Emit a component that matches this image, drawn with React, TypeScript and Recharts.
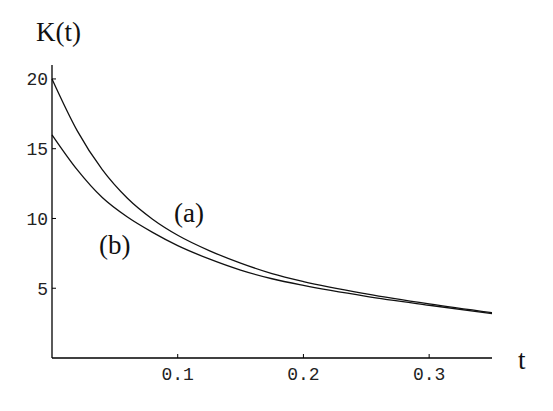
import React from "react";
import { LineChart, Line, XAxis, YAxis, ReferenceDot } from "recharts";

// values
const tValues = [0, 0.02, 0.04, 0.06, 0.08, 0.1, 0.125, 0.15, 0.175, 0.2, 0.25, 0.3, 0.35];
const curveA = [20, 16.3, 13.5, 11.45, 9.95, 8.8, 7.7, 6.8, 6.05, 5.48, 4.6, 3.88, 3.25];
const curveB = [16, 13.5, 11.5, 10.1, 9.0, 8.05, 7.1, 6.3, 5.68, 5.2, 4.42, 3.78, 3.18];
const xTicks = [0.1, 0.2, 0.3];
const yTicks = [5, 10, 15, 20];

const chartData = tValues.map((t, i) => ({ t, a: curveA[i], b: curveB[i] }));

const tickFont = { fontFamily: "'Liberation Mono', monospace", fontSize: 18, fill: "#222" };
const serif = { fontFamily: "'Liberation Serif', serif", fontSize: 27, fill: "#111" };

const TICK_GAP = 4;

const YTick = (props: any) => {
  const { x, y, payload } = props;
  const axisX = x + TICK_GAP;
  return (
    <g>
      <line x1={axisX} x2={axisX + 4} y1={y} y2={y} stroke="#000" strokeWidth={1} />
      <text x={x} y={y} dy="0.35em" textAnchor="end" {...tickFont}>
        {payload.value}
      </text>
    </g>
  );
};

const XTick = (props: any) => {
  const { x, y, payload } = props;
  const axisY = y - 8;
  return (
    <g>
      <line x1={x} x2={x} y1={axisY} y2={axisY - 4} stroke="#000" strokeWidth={1} />
      <text x={x} y={y} dy="0.75em" textAnchor="middle" {...tickFont}>
        {payload.value}
      </text>
    </g>
  );
};

const Tag = (text: string) => (props: any) => {
  const { viewBox } = props;
  return (
    <text x={viewBox.x} y={viewBox.y} dy="0.35em" textAnchor="middle" {...serif}>
      {text}
    </text>
  );
};

export default function App() {
  return (
    <div style={{ position: "absolute", left: 0, top: 0, background: "#fff" }}>
      <LineChart
        width={553}
        height={411}
        data={chartData}
        margin={{ top: 65, right: 61, left: 7, bottom: 23 }}
      >
        <XAxis
          dataKey="t"
          type="number"
          domain={[0, 0.35]}
          ticks={xTicks}
          tickSize={0}
          tickMargin={8}
          height={30}
          axisLine={{ stroke: "#000", strokeWidth: 1.3 }}
          tick={<XTick />}
        />
        <YAxis
          type="number"
          domain={[0, 21]}
          ticks={yTicks}
          tickSize={0}
          tickMargin={TICK_GAP}
          width={45}
          axisLine={{ stroke: "#000", strokeWidth: 1.3 }}
          tick={<YTick />}
        />
        <Line type="monotone" dataKey="a" stroke="#111" strokeWidth={1.3} dot={false} isAnimationActive={false} />
        <Line type="monotone" dataKey="b" stroke="#111" strokeWidth={1.3} dot={false} isAnimationActive={false} />
        <ReferenceDot x={0.109} y={10.4} r={0} fill="none" stroke="none" label={Tag("(a)")} />
        <ReferenceDot x={0.05} y={8.1} r={0} fill="none" stroke="none" label={Tag("(b)")} />
        <text x={36} y={41} {...serif}>K(t)</text>
        <text x={518} y={369} {...serif}>t</text>
      </LineChart>
    </div>
  );
}
